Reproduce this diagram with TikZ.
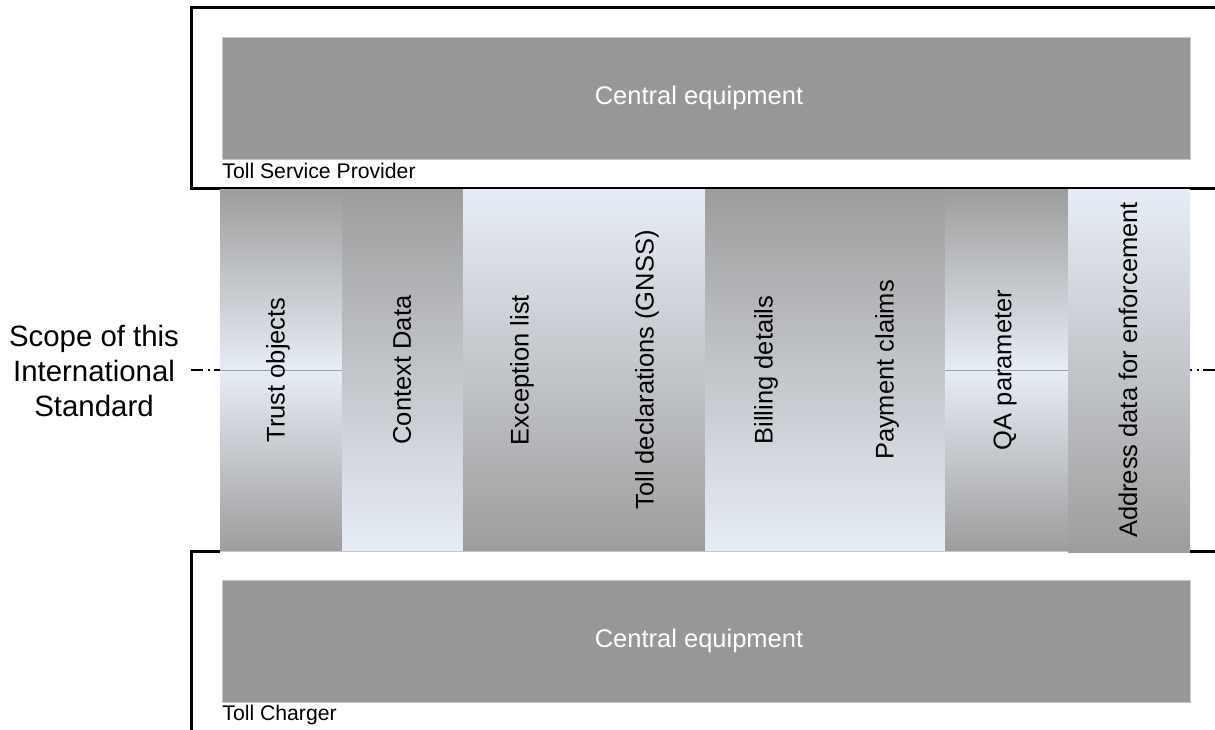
\documentclass[tikz,border=0pt]{standalone}
\usepackage{fontspec}
\setmainfont{Liberation Sans}
\definecolor{equipgray}{RGB}{150,151,150}
\definecolor{bandgray}{RGB}{157,157,157}
\definecolor{bandlight}{RGB}{231,237,246}

\begin{document}
\begin{tikzpicture}[x = .5pt, y = -.5pt,
	every node/.style = {inner sep = 0pt},
	equip/.style = {draw = gray!45, fill = equipgray, line width = .5pt},
	equiptext/.style = {text = white, font = \fontsize{12.75}{15}\selectfont},
	band/.style = {rotate = 90, font = \fontsize{12.75}{15}\selectfont},
	party/.style = {anchor = base west, font = \fontsize{10.6}{12}\selectfont},
	down/.style = {top color = bandgray, bottom color = bandlight},
	up/.style = {top color = bandlight, bottom color = bandgray},
	frame/.style = {line width = 1.5pt}]
	\useasboundingbox (0,0) rectangle (1215,729);
	% scope line, behind the columns
	\coordinate (L) at (191,370);
	\coordinate (R) at (1215,370);
	\draw[line width = 1pt, dash pattern = on 6pt off 2.5pt on 1pt off 2pt] (L) -- (R);
	% the two parties
	\draw[frame] (1225,7) -- (191,7) -- (191,188) -- (1225,188);
	\draw[frame] (220,551.5) -- (191,551.5) -- (191,740);
	\draw[frame] (1190,551.5) -- (1225,551.5);
	\filldraw[equip] (222,37) rectangle (1190,159);
	\filldraw[equip] (222,580) rectangle (1190,702);
	\node[equiptext] (ceTSP) at (699,98) {Central equipment};
	\node[equiptext] (ceTC) at (699,641) {Central equipment};
	\node[party] (TSP) at (222,178) {Toll Service Provider};
	\node[party] (TC) at (222,720) {Toll Charger};
	% columns
	\shade[down] (220,189.5) rectangle (342,370);
	\shade[up] (220,370) rectangle (342,551);
	\shade[down] (342,189.5) rectangle (463,551);
	\shade[up] (463,189.5) rectangle (705,551);
	\shade[down] (705,189.5) rectangle (945,551);
	\shade[down] (945,189.5) rectangle (1068,370);
	\shade[up] (945,370) rectangle (1068,551);
	\shade[up] (1068,189.5) rectangle (1190,552);
	\draw[gray!75, line width = .5pt] (220,370) -- (342,370);
	\draw[gray!75, line width = .5pt] (945,370) -- (1068,370);
	\draw[gray!45, line width = .5pt] (220,551) -- (1068,551);
	\node[band] (trust) at (278,370) {Trust objects};
	\node[band] (context) at (402,370) {Context Data};
	\node[band] (except) at (522,370) {Exception list};
	\node[band] (decl) at (647,370) {Toll declarations (GNSS)};
	\node[band] (billing) at (766,370) {Billing details};
	\node[band] (payment) at (887,370) {Payment claims};
	\node[band] (qa) at (1005,370) {QA parameter};
	\node[band] (address) at (1128,370) {Address data for enforcement};
	% scope label
	\node[align = center, font = \fontsize{14.7}{17.5}\selectfont] (scope) at (94,371) {Scope of this\\International\\Standard};
\end{tikzpicture}
\end{document}
